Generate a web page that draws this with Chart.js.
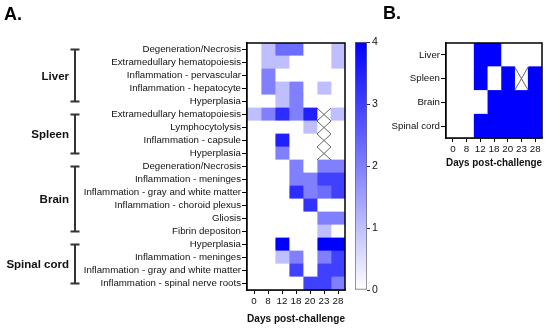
<!DOCTYPE html>
<html>
<head>
<meta charset="utf-8">
<script src="https://cdn.jsdelivr.net/npm/chart.js@4.4.1/dist/chart.umd.min.js"></script>
<style>
  html, body { margin: 0; padding: 0; background: #fff; }
  #wrap { position: relative; width: 550px; height: 330px; overflow: hidden; }
  canvas { position: absolute; top: 0; }
</style>
</head>
<body>
<div id="wrap">
  <canvas id="heatA" style="left:0" width="350" height="330"></canvas>
  <canvas id="scaleBar" style="left:345px" width="45" height="330"></canvas>
  <canvas id="heatB" style="left:380px" width="170" height="330"></canvas>
</div>
<script>
"use strict";

const days = ["0", "8", "12", "18", "20", "23", "28"];

const liverLesions = ["Degeneration/Necrosis", "Extramedullary hematopoiesis", "Inflammation - pervascular", "Inflammation - hepatocyte", "Hyperplasia"];
const spleenLesions = ["Extramedullary hematopoiesis", "Lymphocytolysis", "Inflammation - capsule", "Hyperplasia"];
const brainLesions = ["Degeneration/Necrosis", "Inflammation - meninges", "Inflammation - gray and white matter", "Inflammation - choroid plexus", "Gliosis", "Fibrin depositon"];
const cordLesions = ["Hyperplasia", "Inflammation - meninges", "Inflammation - gray and white matter", "Inflammation - spinal nerve roots"];

// scores per day, null = no sample that day
const liverScores = [
    [0, 1, 2.3, 2.3, 0, 0, 1],
    [0, 1, 1, 0, 0, 0, 1],
    [0, 2, 0, 0, 0, 0, 0],
    [0, 2, 1, 2, 0, 1, 0],
    [0, 0, 1, 2, 0, 0, 0]
];
const spleenScores = [
    [1, 2, 3.3, 2, 3.5, null, 1],
    [0, 0, 0, 0, 1, null, 0],
    [0, 0, 3.5, 0, 0, null, 0],
    [0, 0, 2, 0, 0, null, 0]
];
const brainScores = [
    [0, 0, 0, 2, 0, 2, 2],
    [0, 0, 0, 2, 2, 3, 3],
    [0, 0, 0, 3.3, 2, 2.3, 3],
    [0, 0, 0, 0, 3.2, 0, 0],
    [0, 0, 0, 0, 0, 2, 2],
    [0, 0, 0, 0, 0, 1, 0]
];
const cordScores = [
    [0, 0, 4, 0, 0, 4, 4],
    [0, 0, 1, 2, 0, 2, 3],
    [0, 0, 0, 3, 0, 3, 3],
    [0, 0, 0, 0, 3, 3, 2]
];

const organs = ["Liver", "Spleen", "Brain", "Spinal cord"];
const organPresence = [
    [0, 0, 1, 1, 0, 0, 0],
    [0, 0, 1, 0, 1, null, 1],
    [0, 0, 0, 1, 1, 1, 1],
    [0, 0, 1, 1, 1, 1, 1]
];

const scaleTicks = [0, 1, 2, 3, 4];

const FONT = "'Liberation Sans', Arial, Helvetica, sans-serif";
Chart.defaults.font.family = FONT;
Chart.defaults.color = "#111";

function cellColor(v, max) {
    if (v === null) return "#fff";
    const c = Math.round(255 * (1 - v / max));
    return "rgb(" + c + "," + c + ",255)";
}

function heatDatasets(rows, max) {
    return days.map((d, j) => ({
        label: d,
        data: rows.map(r => r[j] === null ? null : [j, j + 1]),
        backgroundColor: rows.map(r => cellColor(r[j], max)),
        borderWidth: 0,
        inflateAmount: 0.4,
        barPercentage: 1,
        categoryPercentage: 1,
        grouped: false
    }));
}

// frame around the plot + X for missing cells
const heatDecor = {
    id: "heatDecor",
    afterDatasetsDraw(chart) {
        const { ctx, chartArea, scales } = chart;
        const half = (scales.y.getPixelForValue(1) - scales.y.getPixelForValue(0)) / 2;
        ctx.save();
        ctx.strokeStyle = "#555";
        ctx.lineWidth = 0.9;
        chart.data.datasets.forEach((ds, j) => {
            ds.data.forEach((v, i) => {
                if (v !== null) return;
                const x0 = scales.x.getPixelForValue(j), x1 = scales.x.getPixelForValue(j + 1);
                const yc = scales.y.getPixelForValue(i);
                ctx.beginPath();
                ctx.moveTo(x0, yc - half); ctx.lineTo(x1, yc + half);
                ctx.moveTo(x1, yc - half); ctx.lineTo(x0, yc + half);
                ctx.stroke();
            });
        });
        ctx.strokeStyle = "#000";
        ctx.lineWidth = 1.5;
        ctx.strokeRect(chartArea.left, chartArea.top, chartArea.right - chartArea.left, chartArea.bottom - chartArea.top);
        ctx.restore();
    }
};

function panelLetter(text, x, y) {
    return {
        id: "letter",
        afterDraw(chart) {
            const ctx = chart.ctx;
            ctx.save();
            ctx.font = "bold 18px " + FONT;
            ctx.fillStyle = "#000";
            ctx.textBaseline = "alphabetic";
            ctx.fillText(text, x, y);
            ctx.restore();
        }
    };
}

// organ brackets on the left of panel A
const groupSizes = [liverLesions.length, spleenLesions.length, brainLesions.length, cordLesions.length];
const organBrackets = {
    id: "organBrackets",
    afterDraw(chart) {
        const { ctx } = chart;
        const y = chart.scales.y;
        let start = 0;
        ctx.save();
        groupSizes.forEach((n, g) => {
            const top = y.getPixelForValue(start), bot = y.getPixelForValue(start + n - 1);
            ctx.strokeStyle = "#333";
            ctx.lineWidth = 2;
            ctx.beginPath();
            ctx.moveTo(75, top); ctx.lineTo(75, bot);
            ctx.moveTo(70.5, top); ctx.lineTo(79.5, top);
            ctx.moveTo(70.5, bot); ctx.lineTo(79.5, bot);
            ctx.stroke();
            ctx.font = "bold 11.5px " + FONT;
            ctx.fillStyle = "#111";
            ctx.textAlign = "right";
            ctx.textBaseline = "middle";
            ctx.fillText(organs[g], 69, (top + bot) / 2 + 1);
            start += n;
        });
        ctx.restore();
    }
};

function heatScales(yWidth, xHeight) {
    return {
        x: {
            type: "linear",
            min: 0,
            max: days.length,
            afterBuildTicks: axis => { axis.ticks = days.map((d, j) => ({ value: j + 0.5 })); },
            afterFit: axis => { axis.height = xHeight; },
            ticks: { callback: (v, i) => days[i], font: { size: 9.8 }, padding: 1, autoSkip: false, maxRotation: 0 },
            grid: { drawOnChartArea: false, tickLength: 4, color: "#000" },
            border: { color: "#000", width: 1.5 },
            title: { display: true, text: "Days post-challenge", font: { size: 11.5, weight: "bold" }, color: "#111", padding: { top: 0, bottom: 4 } }
        },
        y: {
            type: "category",
            offset: true,
            afterFit: axis => { axis.width = yWidth; },
            ticks: { font: { size: 9.7 }, padding: 1, autoSkip: false },
            grid: { drawOnChartArea: false, offset: false, tickLength: 5, color: "#000" },
            border: { color: "#000", width: 1.5 }
        }
    };
}

const rowLabels = [...liverLesions, ...spleenLesions, ...brainLesions, ...cordLesions];
const rowScores = [...liverScores, ...spleenScores, ...brainScores, ...cordScores];

let chartA = new Chart(document.getElementById("heatA"), {
    type: "bar",
    data: { labels: rowLabels, datasets: heatDatasets(rowScores, 4) },
    options: {
        indexAxis: "y",
        responsive: false,
        animation: false,
        layout: { padding: { top: 43, right: 5, bottom: 0, left: 0 } },
        plugins: { legend: { display: false }, tooltip: { enabled: false } },
        scales: heatScales(247, 40)
    },
    plugins: [heatDecor, organBrackets, panelLetter("A.", 4, 20)]
});

// colour scale
let chartBar = new Chart(document.getElementById("scaleBar"), {
    type: "bar",
    data: {
        labels: [""],
        datasets: [{
            data: [[scaleTicks[0], scaleTicks[scaleTicks.length - 1]]],
            backgroundColor: c => {
                const area = c.chart.chartArea;
                if (!area) return "#fff";
                const g = c.chart.ctx.createLinearGradient(0, area.bottom, 0, area.top);
                g.addColorStop(0, cellColor(0, 4));
                g.addColorStop(1, cellColor(4, 4));
                return g;
            },
            borderColor: "#666",
            borderWidth: 1,
            borderSkipped: false,
            barPercentage: 1,
            categoryPercentage: 1
        }]
    },
    options: {
        responsive: false,
        animation: false,
        layout: { padding: { top: 42, bottom: 40, left: 10, right: 0 } },
        plugins: { legend: { display: false }, tooltip: { enabled: false } },
        scales: {
            x: { display: false },
            y: {
                position: "right",
                min: 0,
                max: 4,
                afterBuildTicks: axis => { axis.ticks = scaleTicks.map(v => ({ value: v })); },
                afterFit: axis => { axis.width = 23; },
                ticks: { font: { size: 10.5 }, padding: 2 },
                grid: { drawOnChartArea: false, tickLength: 3, color: "#333" },
                border: { display: false }
            }
        }
    }
});

let chartB = new Chart(document.getElementById("heatB"), {
    type: "bar",
    data: { labels: organs, datasets: heatDatasets(organPresence, 1) },
    options: {
        indexAxis: "y",
        responsive: false,
        animation: false,
        layout: { padding: { top: 43, right: 8, bottom: 156, left: 0 } },
        plugins: { legend: { display: false }, tooltip: { enabled: false } },
        scales: heatScales(66, 36)
    },
    plugins: [heatDecor, panelLetter("B.", 3, 19)]
});
</script>
</body>
</html>
